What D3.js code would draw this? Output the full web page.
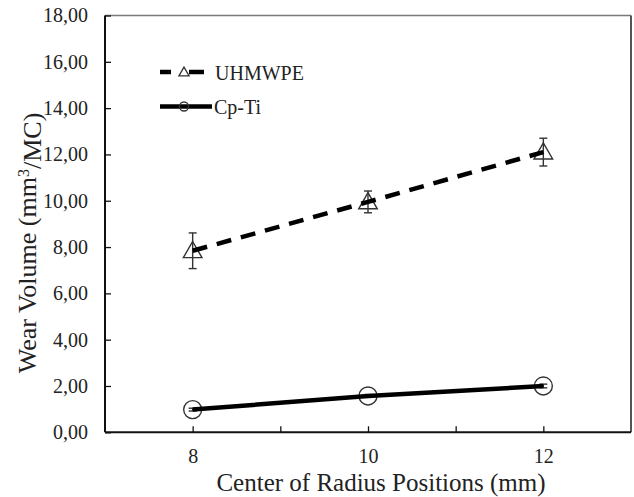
<!DOCTYPE html>
<html>
<head>
<meta charset="utf-8">
<script src="https://cdn.jsdelivr.net/npm/d3@7"></script>
<style>
  body { margin: 0; background: #fff; }
  svg { display: block; font-family: "Liberation Serif", "Times New Roman", serif; }
</style>
</head>
<body>
<script>
const w = 634;
const h = 497;

// data
const positions = [8, 10, 12];
const uhmwpe = [7.84, 9.95, 12.1];
const uhmwpeErr = [0.77, 0.47, 0.6];
const cpti = [0.98, 1.57, 2.0];
const cptiErr = [0.06, 0.06, 0.08];

const xTicks = [8, 9, 10, 11, 12];
const xTickLabels = [8, 10, 12];
const yTicks = [0, 2, 4, 6, 8, 10, 12, 14, 16, 18];

const plotLeft = 105, plotRight = 631, plotTop = 15.5, plotBottom = 432.3;

const svg = d3.select("body")
  .append("svg")
  .attr("width", w)
  .attr("height", h);

const x = d3.scaleLinear().domain([7, 13]).range([plotLeft, plotRight]);
const y = d3.scaleLinear().domain([0, 18]).range([plotBottom, plotTop]);

const comma = d3.formatLocale({ decimal: ",", thousands: ".", grouping: [3], currency: ["", ""] }).format(".2f");

// frame: thin top, right
svg.append("line")
  .attr("x1", plotLeft).attr("x2", plotRight).attr("y1", plotTop).attr("y2", plotTop)
  .attr("stroke", "#7a7a7a").attr("stroke-width", 1.3);
svg.append("line")
  .attr("x1", plotRight).attr("x2", plotRight).attr("y1", plotTop).attr("y2", plotBottom)
  .attr("stroke", "#555").attr("stroke-width", 2);

// axes
const yAxis = svg.append("g")
  .attr("transform", "translate(" + plotLeft + ",0)")
  .call(d3.axisLeft(y).tickValues(yTicks).tickFormat(comma).tickSize(-6).tickPadding(17));

const xAxis = svg.append("g")
  .attr("transform", "translate(0," + plotBottom + ")")
  .call(d3.axisBottom(x).tickValues(xTicks)
    .tickFormat(d => xTickLabels.includes(d) ? d : "")
    .tickSize(-6).tickPadding(17));

[xAxis, yAxis].forEach(a => {
  a.select(".domain").attr("stroke", "#111").attr("stroke-width", 2);
  a.selectAll(".tick line").attr("stroke", "#111").attr("stroke-width", 1.3);
  a.selectAll("text")
    .attr("fill", "#222")
    .style("font-family", "Liberation Serif, serif")
    .style("font-size", "20px");
});
xAxis.select(".domain").attr("d", "M" + plotLeft + ",0H" + plotRight);
yAxis.select(".domain").attr("d", "M0," + plotBottom + "V" + plotTop);

// axis titles
svg.append("text")
  .attr("x", 381)
  .attr("y", 491)
  .attr("text-anchor", "middle")
  .attr("fill", "#222")
  .style("font-size", "25px")
  .text("Center of Radius Positions (mm)");

const yTitle = svg.append("text")
  .attr("transform", "translate(36,243) rotate(-90)")
  .attr("text-anchor", "middle")
  .attr("fill", "#222")
  .style("font-size", "26px");
yTitle.append("tspan").text("Wear Volume (mm");
yTitle.append("tspan").attr("dy", "-0.45em").style("font-size", "16px").text("3");
yTitle.append("tspan").attr("dy", "0.45em").text("/MC)");

const line = d3.line()
  .x(d => x(d[0]))
  .y(d => y(d[1]));

const series = [
  { name: "UHMWPE", values: uhmwpe, err: uhmwpeErr, dash: "15,10", marker: "triangle" },
  { name: "Cp-Ti", values: cpti, err: cptiErr, dash: null, marker: "circle" }
];

series.forEach(s => {
  const pts = positions.map((p, i) => [p, s.values[i], s.err[i]]);

  // error bars
  const eb = svg.append("g").attr("stroke", "#333").attr("stroke-width", 1.4);
  pts.forEach(d => {
    eb.append("line")
      .attr("x1", x(d[0])).attr("x2", x(d[0]))
      .attr("y1", y(d[1] - d[2])).attr("y2", y(d[1] + d[2]));
    [d[1] - d[2], d[1] + d[2]].forEach(v => {
      eb.append("line")
        .attr("x1", x(d[0]) - 4).attr("x2", x(d[0]) + 4)
        .attr("y1", y(v)).attr("y2", y(v));
    });
  });

  // markers
  const sym = s.marker === "triangle"
    ? d3.symbol().type(d3.symbolTriangle).size(150)
    : d3.symbol().type(d3.symbolCircle).size(Math.PI * 81);
  svg.append("g").selectAll("path")
    .data(pts)
    .enter()
    .append("path")
    .attr("d", sym)
    .attr("transform", d => "translate(" + x(d[0]) + "," + (y(d[1]) + (s.marker === "triangle" ? 1.5 : 0)) + ")")
    .attr("fill", "none")
    .attr("stroke", "#333")
    .attr("stroke-width", 1.4);

  svg.append("path")
    .datum(pts)
    .attr("d", line)
    .attr("fill", "none")
    .attr("stroke", "#000")
    .attr("stroke-width", 4.5)
    .attr("stroke-dasharray", s.dash);
});

// legend
const legend = svg.append("g");
legend.append("line")
  .attr("x1", 160).attr("x2", 204).attr("y1", 72).attr("y2", 72)
  .attr("stroke", "#000").attr("stroke-width", 4.5)
  .attr("stroke-dasharray", "11,18,15");
legend.append("path")
  .attr("d", d3.symbol().type(d3.symbolTriangle).size(45))
  .attr("transform", "translate(184,73)")
  .attr("fill", "none").attr("stroke", "#333").attr("stroke-width", 1.3);
legend.append("text")
  .attr("x", 215).attr("y", 79.5)
  .attr("fill", "#222").style("font-size", "20px")
  .text("UHMWPE");

legend.append("line")
  .attr("x1", 160).attr("x2", 212).attr("y1", 106.5).attr("y2", 106.5)
  .attr("stroke", "#000").attr("stroke-width", 4.5);
legend.append("circle")
  .attr("cx", 184).attr("cy", 106.5).attr("r", 4.5)
  .attr("fill", "none").attr("stroke", "#333").attr("stroke-width", 1.3);
legend.append("text")
  .attr("x", 214).attr("y", 113.5)
  .attr("fill", "#222").style("font-size", "20px")
  .text("Cp-Ti");
</script>
</body>
</html>
